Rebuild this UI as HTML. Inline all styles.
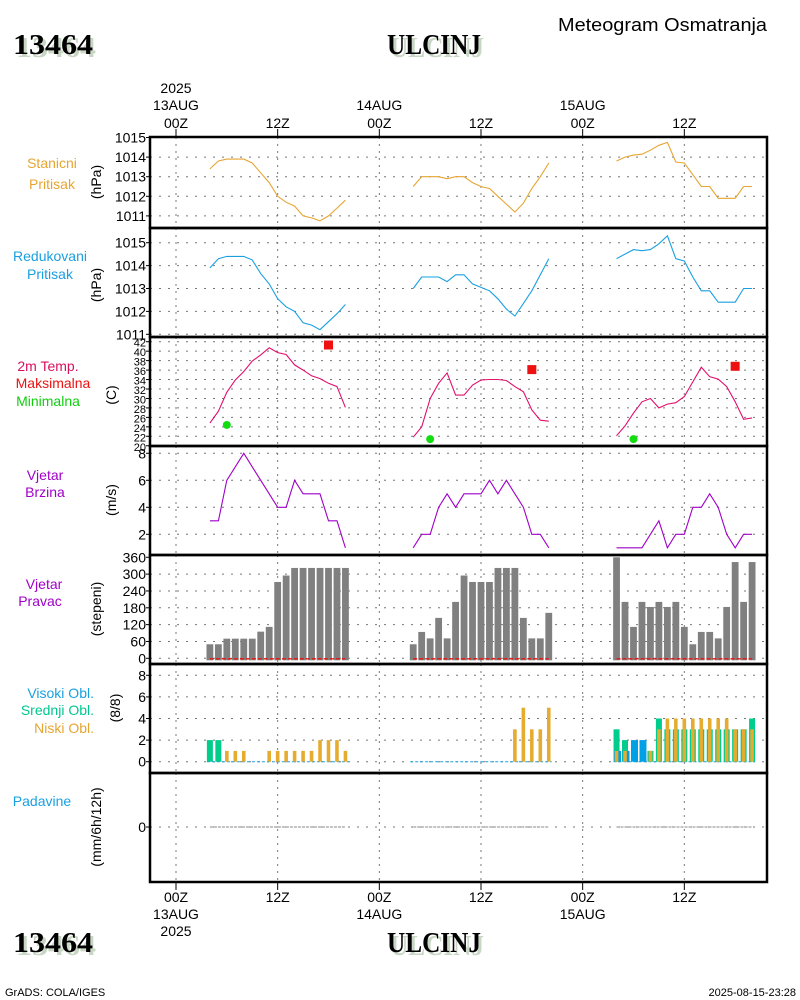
<!DOCTYPE html>
<html><head><meta charset="utf-8"><style>
html,body{margin:0;padding:0;background:#fff;}
svg{display:block;font-family:"Liberation Sans",sans-serif;}
</style></head><body>
<svg id="chart" width="800" height="1000" viewBox="0 0 800 1000" xmlns="http://www.w3.org/2000/svg">
<rect x="0" y="0" width="800" height="1000" fill="#fff"/>
<g>
<text x="16" y="57" textLength="80" lengthAdjust="spacingAndGlyphs" font-family="Liberation Serif,serif" font-weight="bold" font-size="29" fill="#c8d6c4">13464</text>
<text x="13" y="54" textLength="80" lengthAdjust="spacingAndGlyphs" font-family="Liberation Serif,serif" font-weight="bold" font-size="29" fill="#000">13464</text>
<text x="390" y="57" textLength="94" lengthAdjust="spacingAndGlyphs" font-family="Liberation Serif,serif" font-weight="bold" font-size="29" fill="#c8d6c4">ULCINJ</text>
<text x="387" y="54" textLength="94" lengthAdjust="spacingAndGlyphs" font-family="Liberation Serif,serif" font-weight="bold" font-size="29" fill="#000">ULCINJ</text>
<text x="558" y="31" textLength="209" lengthAdjust="spacingAndGlyphs" font-size="18" fill="#000">Meteogram Osmatranja</text>
</g>
<g>
<text x="16" y="955" textLength="80" lengthAdjust="spacingAndGlyphs" font-family="Liberation Serif,serif" font-weight="bold" font-size="29" fill="#c8d6c4">13464</text>
<text x="13" y="952" textLength="80" lengthAdjust="spacingAndGlyphs" font-family="Liberation Serif,serif" font-weight="bold" font-size="29" fill="#000">13464</text>
<text x="390" y="955" textLength="94" lengthAdjust="spacingAndGlyphs" font-family="Liberation Serif,serif" font-weight="bold" font-size="29" fill="#c8d6c4">ULCINJ</text>
<text x="387" y="952" textLength="94" lengthAdjust="spacingAndGlyphs" font-family="Liberation Serif,serif" font-weight="bold" font-size="29" fill="#000">ULCINJ</text>
<text x="5" y="996" font-size="11" fill="#000">GrADS: COLA/IGES</text>
<text x="796" y="996" text-anchor="end" font-size="11" fill="#000">2025-08-15-23:28</text>
</g>
<g id="grid"></g>
<g id="marks"></g>
<g id="frames"></g>
<g id="labels" font-size="14"></g>
</svg>
<script>
// ---- data (hourly, 04Z-20Z each day) ----
const hours1 = [4,5,6,7,8,9,10,11,12,13,14,15,16,17,18,19,20];
const hours2 = [28,29,30,31,32,33,34,35,36,37,38,39,40,41,42,43,44];
const hours3 = [52,53,54,55,56,57,58,59,60,61,62,63,64,65,66,67,68];
const stnPres1 = [1013.4,1013.8,1013.9,1013.9,1013.9,1013.7,1013.2,1012.7,1012.0,1011.7,1011.5,1011.0,1010.9,1010.75,1011.0,1011.4,1011.8];
const stnPres2 = [1012.5,1013.0,1013.0,1013.0,1012.9,1013.0,1013.0,1012.7,1012.5,1012.4,1012.0,1011.6,1011.2,1011.65,1012.4,1013.0,1013.7];
const stnPres3 = [1013.8,1014.0,1014.1,1014.15,1014.35,1014.6,1014.75,1013.75,1013.7,1013.1,1012.5,1012.5,1011.9,1011.9,1011.9,1012.5,1012.5];
const redPres1 = [1013.9,1014.3,1014.4,1014.4,1014.4,1014.25,1013.65,1013.2,1012.55,1012.2,1012.0,1011.5,1011.4,1011.2,1011.55,1011.9,1012.3];
const redPres2 = [1013.0,1013.5,1013.5,1013.5,1013.3,1013.6,1013.6,1013.2,1013.05,1012.9,1012.55,1012.1,1011.8,1012.35,1012.9,1013.6,1014.3];
const redPres3 = [1014.3,1014.5,1014.7,1014.65,1014.7,1014.95,1015.3,1014.3,1014.2,1013.5,1012.9,1012.9,1012.4,1012.4,1012.4,1013.0,1013.0];
const temp1 = [24.8,27.3,31.3,33.9,35.7,37.9,39.2,40.7,39.7,39.3,37.1,36.0,34.8,34.2,33.2,32.5,28.1];
const temp2 = [21.8,24.0,30.0,33.2,35.4,30.7,30.7,32.8,33.9,34.0,34.0,33.8,32.5,31.4,27.6,25.4,25.2];
const temp3 = [22.1,24.2,26.9,29.3,30.0,28.0,28.8,29.1,30.4,33.5,36.6,34.6,34.1,32.5,29.3,25.6,25.9];
const maxHours = [18,42,66];
const maxTemps = [41.3,36.1,36.8];
const minHours = [6,30,54];
const minTemps = [24.4,21.4,21.4];
const wspd1 = [3,3,6,7,8,7,6,5,4,4,6,5,5,5,3,3,1];
const wspd2 = [1,2,2,4,5,4,5,5,5,6,5,6,5,4,2,2,1];
const wspd3 = [1,1,1,1,2,3,1,2,2,4,4,5,4,2,1,2,2];
const wdir1 = [50,50,70,70,70,70,95,112,272,295,322,322,322,322,322,322,322];
const wdir2 = [50,94,71,144,71,201,295,272,272,272,322,322,322,144,71,71,162];
const wdir3 = [360,201,112,201,183,201,183,201,112,50,94,94,71,183,343,201,343];
const cloudHigh1 = [0,0,0,0,0,0,0,0,0,0,0,0,0,0,0,0,0];
const cloudHigh2 = [0,0,0,0,0,0,0,0,0,0,0,0,0,0,0,0,0];
const cloudHigh3 = [1,1,2,2,0,0,0,0,0,0,0,0,0,0,0,0,0];
const cloudMid1 = [2,2,0,0,0,0,0,0,0,0,0,0,0,0,0,0,0];
const cloudMid2 = [0,0,0,0,0,0,0,0,0,0,0,0,0,0,0,0,0];
const cloudMid3 = [3,2,0,0,1,4,3,3,3,3,3,3,3,3,3,3,4];
const cloudLow1 = [0,0,1,1,1,0,0,1,1,1,1,1,1,2,2,2,1];
const cloudLow2 = [0,0,0,0,0,0,0,0,0,0,0,0,3,5,3,3,5];
const cloudLow3 = [1,1,0,0,1,3,4,4,4,4,4,4,4,4,3,3,3];
const precip1 = [0,0,0,0,0,0,0,0,0,0,0,0,0,0,0,0,0];
const precip2 = [0,0,0,0,0,0,0,0,0,0,0,0,0,0,0,0,0];
const precip3 = [0,0,0,0,0,0,0,0,0,0,0,0,0,0,0,0,0];
const presTicks = [1011,1012,1013,1014,1015];
const tempTicks = [20,22,24,26,28,30,32,34,36,38,40,42];
const wspdTicks = [2,4,6,8];
const wdirTicks = [0,60,120,180,240,300,360];
const cloudTicks = [0,2,4,6,8];
const precipTicks = [0];
const timeTicks = [0,12,24,36,48,60];
const timeLabels = ["00Z","12Z","00Z","12Z","00Z","12Z"];
const dateLabels = ["13AUG","","14AUG","","15AUG",""];

// ---- scales ----
const X0=150, X1=767;
const xH = h => 176 + h*8.472;
const yP1 = v => 137.5 + (1015-v)*19.6;
const yP2 = v => 242.7 + (1015-v)*22.9;
const yT = v => 341.7 + (42-v)*4.73;
const yW = v => 453.3 + (8-v)*13.5;
const yD = v => 658.3 - v*0.2806;
const yC = v => 761.7 - v*10.8;
const yR = v => 827 - v*10;
const panels = [[137,228],[228,337],[337,446],[446,555],[555,664],[664,773],[773,882]];

const NS="http://www.w3.org/2000/svg";
function mk(tag, attrs, parent){const e=document.createElementNS(NS,tag);for(const k in attrs)e.setAttribute(k,attrs[k]);parent.appendChild(e);return e;}
const G=document.getElementById('grid'), M=document.getElementById('marks'), F=document.getElementById('frames'), L=document.getElementById('labels');

panels.forEach(([a,b])=>{
  timeTicks.forEach(h=>{
    const l=mk('line',{x1:xH(h),x2:xH(h),y1:a,y2:b,stroke:'#777','stroke-dasharray':'2,5'},G);
    
    
  });
});
function hgrid(ticks, yf, name){
  ticks.forEach(t=>{
    const y=yf(t);
    const l=mk('line',{x1:X0,x2:X1,y1:y,y2:y,stroke:'#777','stroke-dasharray':'2,7'},G);
    
    
  });
}
hgrid([1011,1012,1013,1014],yP1,'station-pressure');
hgrid([1011,1012,1013,1014,1015],yP2,'reduced-pressure');
hgrid([22,24,26,28,30,32,34,36,38,40,42],yT,'temperature');
hgrid(wspdTicks,yW,'wind-speed');
hgrid([0,60,120,180,240,300],yD,'wind-direction');
hgrid(cloudTicks,yC,'cloud');
hgrid(precipTicks,yR,'precipitation');

function line(hrs, vals, yf, color, name){
  const pts=hrs.map((h,i)=>xH(h).toFixed(1)+','+yf(vals[i]).toFixed(1)).join(' ');
  const p=mk('polyline',{points:pts,fill:'none',stroke:color,'stroke-width':1.1},M);
  
  
}
const segs=[[hours1,0],[hours2,1],[hours3,2]];
const sp=[stnPres1,stnPres2,stnPres3], rp=[redPres1,redPres2,redPres3], tp=[temp1,temp2,temp3], ws=[wspd1,wspd2,wspd3], wd=[wdir1,wdir2,wdir3];
const ch=[cloudHigh1,cloudHigh2,cloudHigh3], cm=[cloudMid1,cloudMid2,cloudMid3], cl=[cloudLow1,cloudLow2,cloudLow3], pr=[precip1,precip2,precip3];
segs.forEach(([hrs,i])=>{
  line(hrs,sp[i],yP1,'#e6a532','station-pressure-line');
  line(hrs,rp[i],yP2,'#1aa0e0','reduced-pressure-line');
  line(hrs,tp[i],yT,'#e0106e','temperature-line');
  line(hrs,ws[i],yW,'#a000c8','wind-speed-line');
  hrs.forEach((h,j)=>{
    const x=xH(h);
    const r=mk('rect',{x:x-3.4,y:yD(wd[i][j]),width:6.8,height:yD(0)-yD(wd[i][j])+2,fill:'#808080'},M);
    
    
  });
  const z=mk('line',{x1:xH(hrs[0]),x2:xH(hrs[hrs.length-1]),y1:yD(0)+0.5,y2:yD(0)+0.5,stroke:'#ee1111','stroke-width':1.3,'stroke-dasharray':'4,2'},M);
  
  
  const cz=mk('line',{x1:xH(hrs[0])-3,x2:xH(hrs[hrs.length-1])+3,y1:yC(0),y2:yC(0),stroke:'#1aa0e0','stroke-width':1,'stroke-dasharray':'3,2'},M);
  
  
  hrs.forEach((h,j)=>{
    const x=xH(h);
    if(cm[i][j]>0){const r=mk('rect',{x:x-3,y:yC(cm[i][j]),width:6,height:yC(0)-yC(cm[i][j]),fill:'#00cc8c'},M);
      
      }
    if(ch[i][j]>0){const r=mk('rect',{x:x-2.5,y:yC(ch[i][j]),width:7,height:yC(0)-yC(ch[i][j]),fill:'#00a0e6'},M);
      
      }
    if(cl[i][j]>0){const r=mk('rect',{x:x-1.8,y:yC(cl[i][j]),width:3.6,height:yC(0)-yC(cl[i][j]),fill:'#e6ac30'},M);
      
      }
  });
  const pl=hrs.map((h,j)=>xH(h).toFixed(1)+','+yR(pr[i][j]).toFixed(1)).join(' ');
  const pp=mk('polyline',{points:pl,fill:'none',stroke:'#888','stroke-width':1,'stroke-dasharray':'3,1'},M);
  
  
});
maxHours.forEach((h,i)=>{
  const r=mk('rect',{x:xH(h)-4.5,y:yT(maxTemps[i])-4.5,width:9,height:9,fill:'#ee1111'},M);
  
  
});
minHours.forEach((h,i)=>{
  const c=mk('circle',{cx:xH(h),cy:yT(minTemps[i]),r:4,fill:'#11dd11'},M);
  
  
});

panels.forEach(([a,b])=>{
  const r=mk('rect',{x:X0,y:a,width:X1-X0,height:b-a,fill:'none',stroke:'#000','stroke-width':2.5},F);
  
  
});
timeTicks.forEach(h=>{
  const t1=mk('line',{x1:xH(h),x2:xH(h),y1:129,y2:137,stroke:'#000'},F);
  
  
  const t2=mk('line',{x1:xH(h),x2:xH(h),y1:882,y2:890,stroke:'#000'},F);
  
  
});

function txt(x,y,s,opts,name){
  const t=mk('text',Object.assign({x:x,y:y},opts||{}),L);
  t.textContent=s;
  
  
  return t;
}
timeTicks.forEach((h,i)=>{
  const x=xH(h);
  txt(x,128,timeLabels[i],{'text-anchor':'middle'},'top-time-label');
  if(dateLabels[i]) txt(x,110,dateLabels[i],{'text-anchor':'middle'},'top-date-label');
  txt(x,902,timeLabels[i],{'text-anchor':'middle'},'bottom-time-label');
  if(dateLabels[i]) txt(x,919,dateLabels[i],{'text-anchor':'middle'},'bottom-date-label');
});
txt(xH(0),93,'2025',{'text-anchor':'middle'},'top-year-label');
txt(xH(0),936,'2025',{'text-anchor':'middle'},'bottom-year-label');
function yticks(ticks,yf,name,fs){
  ticks.forEach(t=>{
    const y=yf(t);
    txt(146,y+5,String(t),{'text-anchor':'end','font-size':fs||14},name+'-tick-label');
    const l=mk('line',{x1:146,x2:150,y1:y,y2:y,stroke:'#000'},F);
    
    
  });
}
yticks(presTicks,yP1,'station-pressure');
yticks(presTicks,yP2,'reduced-pressure');
yticks(tempTicks,yT,'temperature',11);
yticks(wspdTicks,yW,'wind-speed');
yticks(wdirTicks,yD,'wind-direction');
yticks(cloudTicks,yC,'cloud');
yticks(precipTicks,yR,'precipitation');
function rot(x,y,s,name){
  txt(x,y,s,{'text-anchor':'middle',transform:'rotate(-90 '+x+' '+y+')'},name);
}
rot(101,182,'(hPa)','station-pressure-axis-title');
rot(101,285,'(hPa)','reduced-pressure-axis-title');
rot(116,395,'(C)','temperature-axis-title');
rot(116,500,'(m/s)','wind-speed-axis-title');
rot(101,609,'(stepeni)','wind-direction-axis-title');
rot(120,708,'(8/8)','cloud-axis-title');
rot(101,827,'(mm/6h/12h)','precipitation-axis-title');
txt(52,168,'Stanicni',{'text-anchor':'middle',fill:'#e6a532'},'station-pressure-legend');
txt(52,189,'Pritisak',{'text-anchor':'middle',fill:'#e6a532'},'station-pressure-legend-2');
txt(50,261,'Redukovani',{'text-anchor':'middle',fill:'#1aa0e0'},'reduced-pressure-legend');
txt(50,279,'Pritisak',{'text-anchor':'middle',fill:'#1aa0e0'},'reduced-pressure-legend-2');
txt(48,371,'2m Temp.',{'text-anchor':'middle',fill:'#d8105e'},'temperature-legend');
txt(53,388,'Maksimalna',{'text-anchor':'middle',fill:'#ee1111'},'max-temperature-legend');
txt(48,406,'Minimalna',{'text-anchor':'middle',fill:'#11cc11'},'min-temperature-legend');
txt(45,480,'Vjetar',{'text-anchor':'middle',fill:'#a000c8'},'wind-speed-legend');
txt(45,497,'Brzina',{'text-anchor':'middle',fill:'#a000c8'},'wind-speed-legend-2');
txt(44,589,'Vjetar',{'text-anchor':'middle',fill:'#a000c8'},'wind-direction-legend');
txt(40,606,'Pravac',{'text-anchor':'middle',fill:'#a000c8'},'wind-direction-legend-2');
txt(94,698,'Visoki Obl.',{'text-anchor':'end',fill:'#1aa0e0'},'high-cloud-legend');
txt(94,715,'Srednji Obl.',{'text-anchor':'end',fill:'#00c890'},'mid-cloud-legend');
txt(94,733,'Niski Obl.',{'text-anchor':'end',fill:'#e6a532'},'low-cloud-legend');
txt(42,806,'Padavine',{'text-anchor':'middle',fill:'#1aa0e0'},'precipitation-legend');
</script>
</body></html>
